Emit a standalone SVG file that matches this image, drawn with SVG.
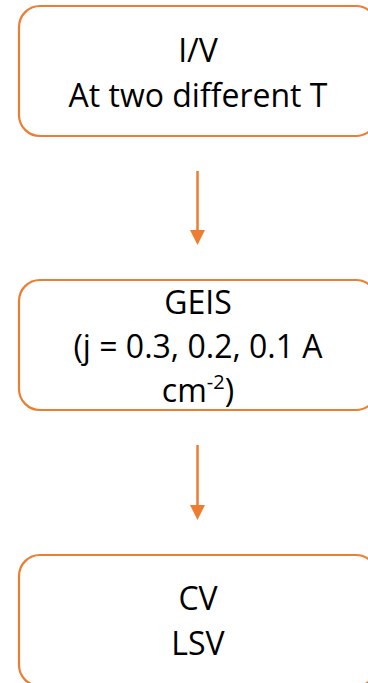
<svg xmlns="http://www.w3.org/2000/svg" width="368" height="683" viewBox="0 0 368 683">
  <defs>
    <style>
      .box { fill: #ffffff; stroke: #ED7D31; stroke-width: 2.2; }
      .lbl { font-family: "Open Sans", "Liberation Sans", sans-serif; font-size: 32px; fill: #000000; text-anchor: middle; }
      .sup { font-size: 20px; }
      .link { stroke: #ED7D31; stroke-width: 2.5; fill: none; }
      .head { fill: #ED7D31; }
    </style>
  </defs>
  <rect width="368" height="683" fill="#ffffff"/>

  <g id="node-iv">
    <rect class="box" x="19" y="6" width="358" height="130" rx="21" ry="21"/>
    <text class="lbl" x="198" y="62">I/V</text>
    <text class="lbl" x="198" y="107">At two different T</text>
  </g>

  <g id="node-geis">
    <rect class="box" x="19" y="280" width="358" height="130" rx="21" ry="21"/>
    <text class="lbl" x="198" y="314">GEIS</text>
    <text class="lbl" x="198" y="358">(j = 0.3, 0.2, 0.1 A</text>
    <text class="lbl" x="198" y="402">cm<tspan class="sup" dy="-13">-2</tspan><tspan dy="13">)</tspan></text>
  </g>

  <g id="node-cv">
    <rect class="box" x="19" y="555" width="358" height="131" rx="21" ry="21"/>
    <text class="lbl" x="198" y="610">CV</text>
    <text class="lbl" x="198" y="655">LSV</text>
  </g>

  <g id="connectors">
    <line class="link" x1="197.5" y1="171" x2="197.5" y2="232"/>
    <polygon class="head" points="190,230 205,230 197.5,245"/>
    <line class="link" x1="197.5" y1="445" x2="197.5" y2="507"/>
    <polygon class="head" points="190,505 205,505 197.5,520"/>
  </g>
</svg>
